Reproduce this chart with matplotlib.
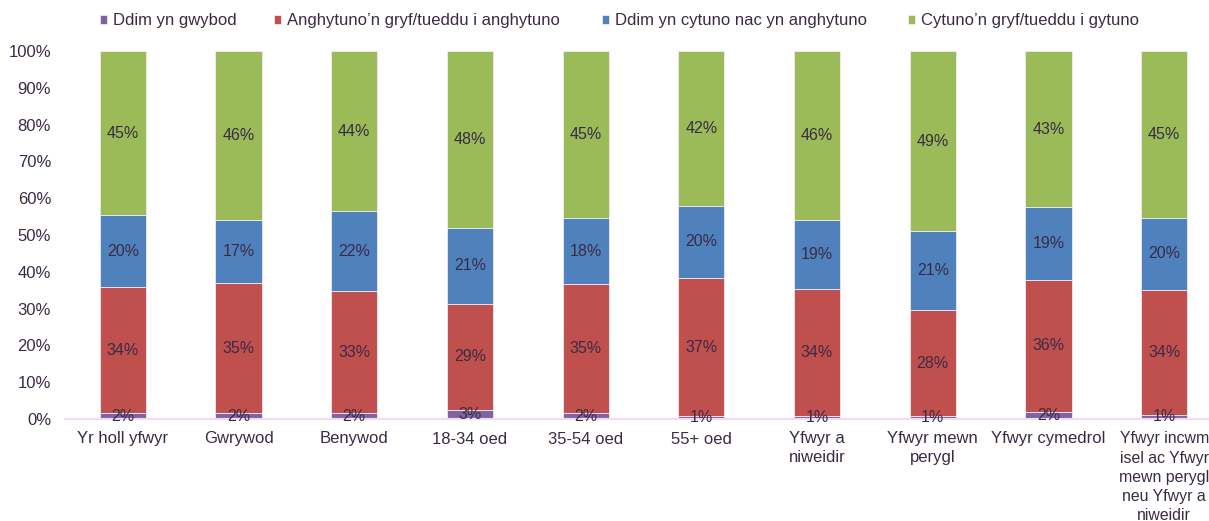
import matplotlib
matplotlib.use("Agg")
import matplotlib.pyplot as plt
import numpy as np

plt.rcParams['font.family'] = ['Liberation Sans', 'DejaVu Sans']

categories = [
    "Yr holl yfwyr", "Gwrywod", "Benywod", "18-34 oed", "35-54 oed",
    "55+ oed", "Yfwyr a\nniweidir", "Yfwyr mewn\nperygl", "Yfwyr cymedrol",
    "Yfwyr incwm\nisel ac Yfwyr\nmewn perygl\nneu Yfwyr a\nniweidir",
]

series_names = [
    "Ddim yn gwybod",
    "Anghytuno\u2019n gryf/tueddu i anghytuno",
    "Ddim yn cytuno nac yn anghytuno",
    "Cytuno\u2019n gryf/tueddu i gytuno",
]

# estimated shares (%)
dont_know = [1.5, 1.5, 1.5, 2.5, 1.5, 0.8, 0.8, 0.8, 2.0, 1.2]
disagree = [34.3, 35.4, 33.4, 28.7, 35.1, 37.4, 34.4, 28.7, 35.9, 33.8]
neutral = [19.6, 17.3, 21.5, 20.8, 18.1, 19.8, 19.0, 21.5, 19.6, 19.7]
agree = [44.6, 45.8, 43.6, 48.0, 45.3, 42.0, 45.8, 49.0, 42.5, 45.3]

# labels printed on the bars
labels_dont_know = [2, 2, 2, 3, 2, 1, 1, 1, 2, 1]
labels_disagree = [34, 35, 33, 29, 35, 37, 34, 28, 36, 34]
labels_neutral = [20, 17, 22, 21, 18, 20, 19, 21, 19, 20]
labels_agree = [45, 46, 44, 48, 45, 42, 46, 49, 43, 45]

colors = ["#8064A2", "#C0504D", "#4F81BD", "#9BBB59"]
text_color = "#3A2B45"

values = np.array([dont_know, disagree, neutral, agree], dtype=float)
values = values / values.sum(axis=0)  # 100% stacked
labels = [labels_dont_know, labels_disagree, labels_neutral, labels_agree]

W, H = 1209, 521
fig = plt.figure(figsize=(W / 100, H / 100), dpi=100)
# plot area runs a little past the right edge, as in the reference
ax = fig.add_axes([65 / W, (H - 419) / H, 1157 / W, 368 / H])

x = np.arange(len(categories))
bottom = np.zeros(len(categories))
handles = []
for i, name in enumerate(series_names):
    bars = ax.bar(x, values[i], 0.4, bottom=bottom, color=colors[i],
                  edgecolor="#F2E9F4", linewidth=0.6, label=name, zorder=2)
    handles.append(bars)
    for j in range(len(categories)):
        ax.text(x[j], bottom[j] + values[i][j] / 2, f"{labels[i][j]}%",
                ha="center", va="center", fontsize=11.5, color=text_color,
                zorder=4)
    bottom += values[i]

ax.set_xlim(-0.5, 9.5)
ax.set_ylim(0, 1)
ticks = np.arange(0, 1.01, 0.1)
ax.set_yticks(ticks)
ax.set_yticklabels([f"{int(round(v * 100))}%" for v in ticks])
ax.set_xticks(x)
ax.set_xticklabels(categories, linespacing=1.28)
ax.tick_params(axis="both", length=0, labelsize=12, labelcolor=text_color)
ax.tick_params(axis="x", pad=9)
ax.tick_params(axis="y", pad=10)
# the last, long label sits against the right edge: keep it inside
last = ax.get_xticklabels()[-1]
last.set_fontsize(11.4)
last.set_linespacing(1.34)
for side in ["top", "right", "left"]:
    ax.spines[side].set_visible(False)
ax.spines["bottom"].set_color("#EEDDF2")
ax.spines["bottom"].set_linewidth(1.5)
ax.spines["bottom"].set_zorder(3)

# one legend entry per series, placed like the reference
legend_x = [100, 274, 602, 908]
for h, name, lx in zip(handles, series_names, legend_x):
    fig.legend(handles=[h], labels=[name], loc="center left",
               bbox_to_anchor=(lx / W, 1 - 21 / H), frameon=False,
               fontsize=12, handlelength=0.4, handleheight=0.4,
               handletextpad=0.36, borderpad=0, borderaxespad=0,
               labelcolor=text_color)

fig.savefig("out.png", dpi=100)
